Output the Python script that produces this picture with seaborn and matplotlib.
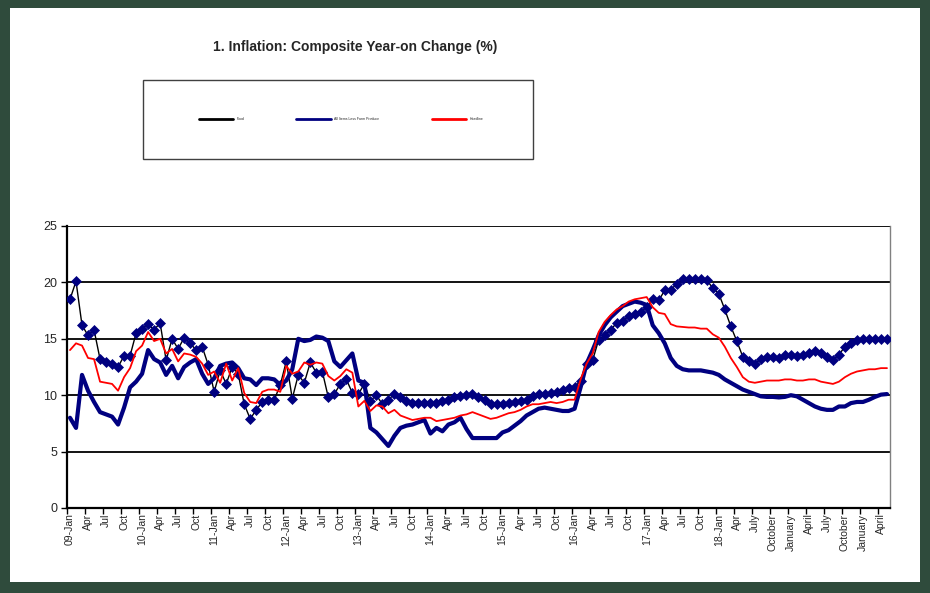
import numpy as np
import pandas as pd
import matplotlib
matplotlib.use('Agg')
import matplotlib.pyplot as plt
from matplotlib.patches import Rectangle
from matplotlib.lines import Line2D
import seaborn as sns

# monthly year-on-year change (%), Jan 2009 - May 2020
food = [18.5, 20.1, 16.2, 15.3, 15.8, 13.2, 12.9, 12.8, 12.5, 13.5, 13.5, 15.5,
        15.9, 16.3, 15.8, 16.4, 13.1, 15.0, 14.1, 15.1, 14.6, 14.0, 14.3, 12.7,
        10.3, 12.2, 11.0, 12.5, 11.9, 9.2, 7.9, 8.7, 9.4, 9.6, 9.6, 10.9,
        13.0, 9.7, 11.8, 11.1, 12.9, 12.0, 12.1, 9.8, 10.1, 11.0, 11.4, 10.2,
        10.1, 11.0, 9.5, 10.0, 9.2, 9.6, 10.1, 9.8, 9.5, 9.3, 9.3, 9.3,
        9.3, 9.3, 9.5, 9.6, 9.8, 9.9, 10.0, 10.1, 9.8, 9.6, 9.2, 9.2,
        9.2, 9.3, 9.4, 9.5, 9.6, 9.9, 10.1, 10.1, 10.2, 10.3, 10.5, 10.6,
        10.7, 11.3, 12.8, 13.1, 14.9, 15.3, 15.8, 16.4, 16.6, 17.0, 17.2, 17.4,
        17.8, 18.5, 18.4, 19.3, 19.3, 19.9, 20.3, 20.3, 20.3, 20.3, 20.2, 19.5,
        19.0, 17.6, 16.1, 14.8, 13.4, 13.0, 12.8, 13.2, 13.4, 13.4, 13.3, 13.6,
        13.6, 13.5, 13.6, 13.7, 13.9, 13.7, 13.4, 13.1, 13.6, 14.3, 14.6, 14.9,
        15.0, 15.0, 15.0, 15.0, 15.0]

core = [8.0, 7.1, 11.8, 10.4, 9.4, 8.5, 8.3, 8.1, 7.4, 8.9, 10.7, 11.2,
        11.9, 14.0, 13.2, 12.9, 11.8, 12.6, 11.5, 12.5, 12.9, 13.2, 11.9, 11.0,
        11.5, 12.6, 12.8, 12.9, 12.4, 11.5, 11.4, 10.9, 11.5, 11.5, 11.4, 10.9,
        11.3, 12.3, 15.0, 14.8, 14.9, 15.2, 15.1, 14.8, 13.0, 12.5, 13.1, 13.7,
        11.3, 11.1, 7.1, 6.7, 6.1, 5.5, 6.4, 7.1, 7.3, 7.4, 7.6, 7.8,
        6.6, 7.1, 6.8, 7.4, 7.6, 8.0, 7.0, 6.2, 6.2, 6.2, 6.2, 6.2,
        6.7, 6.9, 7.3, 7.7, 8.2, 8.5, 8.8, 8.9, 8.8, 8.7, 8.6, 8.6,
        8.8, 10.7, 12.8, 14.0, 15.3, 16.2, 16.9, 17.4, 17.9, 18.1, 18.3, 18.2,
        18.0, 16.2, 15.5, 14.6, 13.3, 12.6, 12.3, 12.2, 12.2, 12.2, 12.1, 12.0,
        11.8, 11.4, 11.1, 10.8, 10.5, 10.3, 10.1, 9.9, 9.85, 9.85, 9.8, 9.85,
        10.0, 9.9, 9.6, 9.3, 9.0, 8.8, 8.7, 8.7, 9.0, 9.0, 9.3, 9.4,
        9.4, 9.6, 9.85, 10.05, 10.1]

headline = [14.0, 14.6, 14.4, 13.3, 13.2, 11.2, 11.1, 11.0, 10.4, 11.6, 12.4, 13.9,
            14.4, 15.6, 14.8, 15.0, 13.7, 14.1, 13.0, 13.7, 13.6, 13.4, 12.8, 11.8,
            12.1, 11.1, 12.8, 11.3, 12.4, 10.2, 9.4, 9.3, 10.3, 10.5, 10.5, 10.3,
            12.6, 11.9, 12.1, 12.9, 12.7, 12.9, 12.8, 11.7, 11.3, 11.7, 12.3, 12.0,
            9.0, 9.5, 8.6, 9.1, 9.0, 8.4, 8.7, 8.2, 8.0, 7.8, 7.9, 8.0,
            8.0, 7.7, 7.8, 7.9, 8.0, 8.2, 8.3, 8.5, 8.3, 8.1, 7.9, 8.0,
            8.2, 8.4, 8.5, 8.7, 9.0, 9.2, 9.2, 9.3, 9.4, 9.3, 9.4, 9.6,
            9.6, 11.4, 12.8, 13.7, 15.6, 16.5, 17.1, 17.6, 17.9, 18.3, 18.5, 18.6,
            18.7, 17.8, 17.3, 17.2, 16.3, 16.1, 16.05, 16.0, 16.0, 15.9, 15.9, 15.4,
            15.1, 14.3, 13.3, 12.5, 11.6, 11.2, 11.1, 11.2, 11.3, 11.3, 11.3, 11.4,
            11.4, 11.3, 11.3, 11.4, 11.4, 11.2, 11.1, 11.0, 11.2, 11.6, 11.9, 12.1,
            12.2, 12.3, 12.3, 12.4, 12.4]

# x labels every 3 months
tick_labels = ['09-Jan', 'Apr', 'Jul', 'Oct', '10-Jan', 'Apr', 'Jul', 'Oct',
               '11-Jan', 'Apr', 'Jul', 'Oct', '12-Jan', 'Apr', 'Jul', 'Oct',
               '13-Jan', 'Apr', 'Jul', 'Oct', '14-Jan', 'Apr', 'Jul', 'Oct',
               '15-Jan', 'Apr', 'Jul', 'Oct', '16-Jan', 'Apr', 'Jul', 'Oct',
               '17-Jan', 'Apr', 'Jul', 'Oct', '18-Jan', 'Apr', 'July', 'October',
               'January', 'April', 'July', 'October', 'January', 'April']
series_names = ['Food', 'All Items Less Farm Produce', 'Headline']

df = pd.DataFrame({'month': np.arange(len(food)), 'food': food,
                   'core': core, 'headline': headline})

sns.set_style('white')
plt.rcParams['font.family'] = ['Liberation Sans', 'DejaVu Sans']

fig = plt.figure(figsize=(9.3, 5.93), dpi=100, facecolor='#2f4b3c')
fig.add_artist(Rectangle((10/930, 11/593), 910/930, 574/593, transform=fig.transFigure,
                         facecolor='white', edgecolor='none', zorder=-5))

ax = fig.add_axes([67/930, 1 - 508/593, (890 - 67)/930, (508 - 226)/593])
ax.set_facecolor('white')

sns.lineplot(data=df, x='month', y='food', ax=ax, color='black', lw=1.0,
             marker='D', markersize=5, markerfacecolor='#000080',
             markeredgecolor='#000080', markeredgewidth=0.5, zorder=3)
sns.lineplot(data=df, x='month', y='core', ax=ax, color='#000080', lw=3.0, zorder=4)
sns.lineplot(data=df, x='month', y='headline', ax=ax, color='#ff0000', lw=1.3, zorder=5)

ax.set_xlim(-0.5, len(food) - 0.5)
ax.set_ylim(0, 25)
ax.set_yticks(range(0, 26, 5))
for v in range(5, 26, 5):
    ax.axhline(v, color='black', lw=1.3, zorder=2)

label_pos = np.arange(0, len(food), 3)
ax.set_xticks(label_pos)
ax.set_xticklabels(tick_labels[:len(label_pos)], rotation=90, fontsize=7.5)
ax.set_xticks(label_pos - 0.5, minor=True)
ax.tick_params(axis='x', which='major', length=0, pad=4)
ax.tick_params(axis='x', which='minor', length=4, width=1, color='black', direction='out', bottom=True)
ax.tick_params(axis='y', length=4, width=1, color='black', direction='out', left=True, labelsize=9, pad=3)
ax.set_xlabel('')
ax.set_ylabel('')

for side in ['left', 'bottom']:
    ax.spines[side].set_color('black')
    ax.spines[side].set_linewidth(1.6)
ax.spines['top'].set_visible(False)
ax.spines['right'].set_color('#808080')
ax.spines['right'].set_linewidth(1.0)

fig.text(355/930, 1 - 47/593, '1. Inflation: Composite Year-on Change (%)',
         ha='center', va='center', fontsize=10, fontweight='bold')

# legend box
fig.add_artist(Rectangle((143/930, 1 - 159/593), 390/930, 79/593, transform=fig.transFigure,
                         facecolor='none', edgecolor='#404040', lw=1.0))
handles = [Line2D([], [], color='black', lw=2),
           Line2D([], [], color='#000080', lw=2),
           Line2D([], [], color='#ff0000', lw=2)]
fig.legend(handles, series_names, loc='center', bbox_to_anchor=(341/930, 1 - 119/593),
           bbox_transform=fig.transFigure, ncol=3, frameon=False, fontsize=2.5,
           handlelength=10, handletextpad=0.9, columnspacing=15)

fig.savefig('out.png', dpi=100, facecolor=fig.get_facecolor())
